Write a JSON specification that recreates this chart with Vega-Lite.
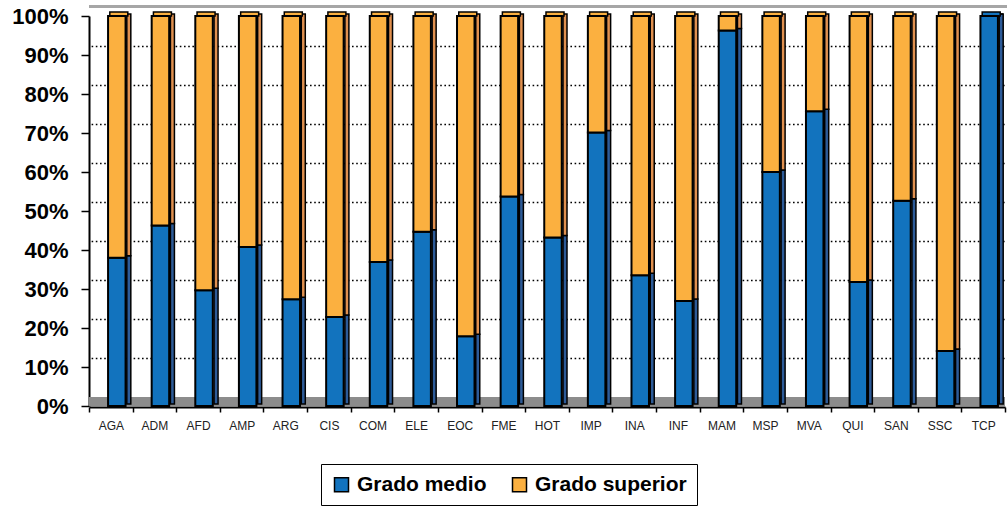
{
  "$schema": "https://vega.github.io/schema/vega-lite/v6.json",
  "width": 916,
  "height": 390,
  "autosize": {"type": "none"},
  "padding": {"left": 89, "top": 16, "right": 2, "bottom": 100},
  "background": "white",
  "config": {
    "view": {"stroke": null},
    "font": "Liberation Sans",
    "axisX": {
      "title": null, "labelAngle": 0, "labelFontSize": 12, "labelColor": "#222222", "labelFont": "Liberation Sans",
      "labelPadding": 8, "tickSize": 5, "tickColor": "black", "tickWidth": 1.5,
      "domainColor": "black", "domainWidth": 2, "tickBand": "extent", "offset": 1, "grid": false
    },
    "axisY": {
      "title": null, "labelFontSize": 22, "labelFontWeight": "bold",
      "labelColor": "black", "labelFont": "Liberation Sans", "labelPadding": 13,
      "tickSize": 8, "tickColor": "black", "tickWidth": 1.5,
      "domainColor": "black", "domainWidth": 2, "grid": false
    }
  },
  "datasets": {
    "ciclos": [
      {"ciclo": "AGA", "nivel": "Grado medio", "pct": 38.0}, {"ciclo": "AGA", "nivel": "Grado superior", "pct": 62.0},
      {"ciclo": "ADM", "nivel": "Grado medio", "pct": 46.3}, {"ciclo": "ADM", "nivel": "Grado superior", "pct": 53.7},
      {"ciclo": "AFD", "nivel": "Grado medio", "pct": 29.7}, {"ciclo": "AFD", "nivel": "Grado superior", "pct": 70.3},
      {"ciclo": "AMP", "nivel": "Grado medio", "pct": 40.8}, {"ciclo": "AMP", "nivel": "Grado superior", "pct": 59.2},
      {"ciclo": "ARG", "nivel": "Grado medio", "pct": 27.4}, {"ciclo": "ARG", "nivel": "Grado superior", "pct": 72.6},
      {"ciclo": "CIS", "nivel": "Grado medio", "pct": 22.8}, {"ciclo": "CIS", "nivel": "Grado superior", "pct": 77.2},
      {"ciclo": "COM", "nivel": "Grado medio", "pct": 36.9}, {"ciclo": "COM", "nivel": "Grado superior", "pct": 63.1},
      {"ciclo": "ELE", "nivel": "Grado medio", "pct": 44.7}, {"ciclo": "ELE", "nivel": "Grado superior", "pct": 55.3},
      {"ciclo": "EOC", "nivel": "Grado medio", "pct": 17.9}, {"ciclo": "EOC", "nivel": "Grado superior", "pct": 82.1},
      {"ciclo": "FME", "nivel": "Grado medio", "pct": 53.7}, {"ciclo": "FME", "nivel": "Grado superior", "pct": 46.3},
      {"ciclo": "HOT", "nivel": "Grado medio", "pct": 43.2}, {"ciclo": "HOT", "nivel": "Grado superior", "pct": 56.8},
      {"ciclo": "IMP", "nivel": "Grado medio", "pct": 70.1}, {"ciclo": "IMP", "nivel": "Grado superior", "pct": 29.9},
      {"ciclo": "INA", "nivel": "Grado medio", "pct": 33.5}, {"ciclo": "INA", "nivel": "Grado superior", "pct": 66.5},
      {"ciclo": "INF", "nivel": "Grado medio", "pct": 26.9}, {"ciclo": "INF", "nivel": "Grado superior", "pct": 73.1},
      {"ciclo": "MAM", "nivel": "Grado medio", "pct": 96.3}, {"ciclo": "MAM", "nivel": "Grado superior", "pct": 3.7},
      {"ciclo": "MSP", "nivel": "Grado medio", "pct": 60.0}, {"ciclo": "MSP", "nivel": "Grado superior", "pct": 40.0},
      {"ciclo": "MVA", "nivel": "Grado medio", "pct": 75.6}, {"ciclo": "MVA", "nivel": "Grado superior", "pct": 24.4},
      {"ciclo": "QUI", "nivel": "Grado medio", "pct": 31.8}, {"ciclo": "QUI", "nivel": "Grado superior", "pct": 68.2},
      {"ciclo": "SAN", "nivel": "Grado medio", "pct": 52.6}, {"ciclo": "SAN", "nivel": "Grado superior", "pct": 47.4},
      {"ciclo": "SSC", "nivel": "Grado medio", "pct": 14.1}, {"ciclo": "SSC", "nivel": "Grado superior", "pct": 85.9},
      {"ciclo": "TCP", "nivel": "Grado medio", "pct": 100.0}, {"ciclo": "TCP", "nivel": "Grado superior", "pct": 0.0}
    ],
    "grid": [
      {"v": 10}, {"v": 20}, {"v": 30}, {"v": 40}, {"v": 50}, {"v": 60}, {"v": 70}, {"v": 80}, {"v": 90}
    ]
  },
  "layer": [
    {
      "data": {"name": "grid"},
      "mark": {"type": "rule", "stroke": "black", "strokeWidth": 1.6, "strokeDash": [1.6, 2.6], "yOffset": -8.5, "xOffset": 8},
      "encoding": {
        "y": {
          "field": "v", "type": "quantitative", "scale": {"domain": [0, 100], "nice": false},
          "axis": {"title": null, "values": [0, 10, 20, 30, 40, 50, 60, 70, 80, 90, 100], "labelExpr": "datum.value + '%'"}
        }
      }
    },
    {
      "data": {"name": "grid"},
      "mark": {"type": "rule", "stroke": "#8C8C8C", "strokeWidth": 9, "yOffset": -4.5},
      "encoding": {
        "y": {"datum": 0, "type": "quantitative",
          "axis": {"title": null, "values": [0, 10, 20, 30, 40, 50, 60, 70, 80, 90, 100], "labelExpr": "datum.value + '%'"}}
      }
    },
    {
      "data": {"name": "grid"},
      "mark": {"type": "rule", "stroke": "#A6A6A6", "strokeWidth": 2, "yOffset": -9.5, "xOffset": 16},
      "encoding": {
        "y": {"datum": 100, "type": "quantitative",
          "axis": {"title": null, "values": [0, 10, 20, 30, 40, 50, 60, 70, 80, 90, 100], "labelExpr": "datum.value + '%'"}}
      }
    },
    {
      "data": {"name": "ciclos"},
      "mark": {"type": "bar", "width": 4, "xOffset": 18, "yOffset": -2, "y2Offset": -2, "stroke": "black", "strokeWidth": 1.5},
      "encoding": {
        "x": {"field": "ciclo", "type": "nominal", "sort": null, "scale": {"paddingInner": 0, "paddingOuter": 0}, "axis": {"title": null}},
        "y": {"field": "pct", "type": "quantitative", "stack": "zero",
          "axis": {"title": null, "values": [0, 10, 20, 30, 40, 50, 60, 70, 80, 90, 100], "labelExpr": "datum.value + '%'"}},
        "detail": {"field": "nivel"},
        "order": {"field": "nivel", "type": "ordinal", "sort": "ascending"},
        "color": {"condition": {"test": "datum.nivel === 'Grado medio'", "value": "#2D5B98"}, "value": "#E0904F"}
      }
    },
    {
      "data": {"name": "ciclos"},
      "transform": [{"filter": "datum.nivel === 'Grado superior'"}],
      "mark": {"type": "bar", "width": 18, "xOffset": 8, "yOffset": -4, "stroke": "black", "strokeWidth": 1.5},
      "encoding": {
        "x": {"field": "ciclo", "type": "nominal", "sort": null, "axis": {"title": null}},
        "y": {"datum": 100, "type": "quantitative",
          "axis": {"title": null, "values": [0, 10, 20, 30, 40, 50, 60, 70, 80, 90, 100], "labelExpr": "datum.value + '%'"}},
        "y2": {"datum": 100},
        "color": {"condition": {"test": "datum.pct > 0", "value": "#FBB040"}, "value": "#1273BE"}
      }
    },
    {
      "data": {"name": "ciclos"},
      "mark": {"type": "bar", "width": 17.5, "xOffset": 6, "stroke": "black", "strokeWidth": 2, "opacity": 1},
      "encoding": {
        "x": {"field": "ciclo", "type": "nominal", "sort": null, "axis": {"title": null}},
        "y": {
          "field": "pct", "type": "quantitative", "stack": "zero",
          "axis": {"title": null, "values": [0, 10, 20, 30, 40, 50, 60, 70, 80, 90, 100], "labelExpr": "datum.value + '%'"}
        },
        "order": {"field": "nivel", "type": "ordinal", "sort": "ascending"},
        "color": {
          "field": "nivel", "type": "nominal",
          "scale": {"domain": ["Grado medio", "Grado superior"], "range": ["#1273BE", "#FBB040"]},
          "legend": {
            "orient": "none", "legendX": 232, "legendY": 448, "direction": "horizontal", "title": null,
            "symbolType": "square", "symbolSize": 196, "symbolStrokeColor": "black", "symbolStrokeWidth": 1.5,
            "symbolOpacity": 1,
            "labelFontSize": 21, "labelFontWeight": "bold", "labelFont": "Liberation Sans", "labelColor": "black",
            "labelOffset": 5, "columnPadding": 22, "padding": 10, "strokeColor": "black", "labelLimit": 400
          }
        }
      }
    }
  ]
}
